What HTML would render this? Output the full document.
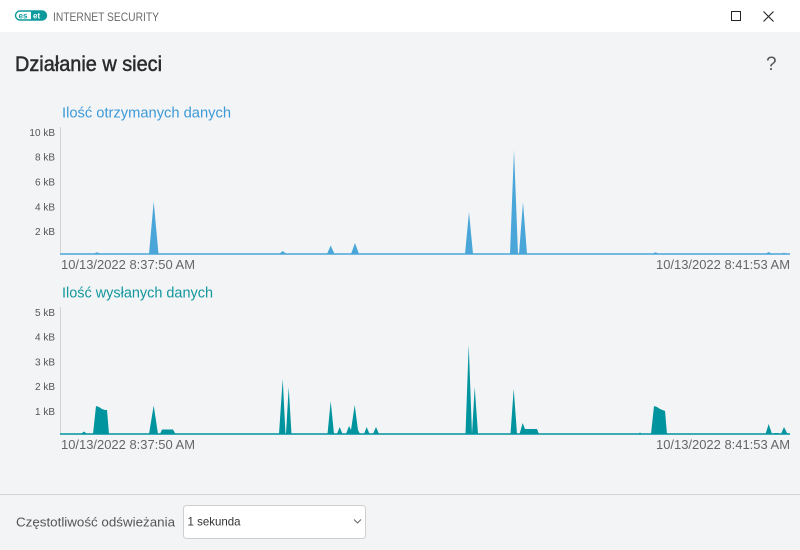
<!DOCTYPE html>
<html><head><meta charset="utf-8"><style>
html,body{margin:0;padding:0;width:800px;height:550px;overflow:hidden;background:#f3f4f6;}
svg{display:block;}
text{font-family:"Liberation Sans",sans-serif;}
</style></head><body>
<svg width="800" height="550" viewBox="0 0 800 550" xmlns="http://www.w3.org/2000/svg">
<rect x="0" y="0" width="800" height="550" fill="#f3f4f6"/>
<!-- title bar -->
<rect x="0" y="0" width="800" height="32" fill="#ffffff"/>
<rect x="15.5" y="11" width="31" height="9" rx="4.5" fill="#ffffff" stroke="#0e9a9c" stroke-width="1.4"/>
<path d="M31 11 H42 A4.5 4.5 0 0 1 42 20 H31 Z" fill="#0e9a9c"/>
<text x="18.5" y="18.5" font-size="8" font-weight="bold" fill="#0e9a9c">es</text>
<text x="33" y="18.5" font-size="8" font-weight="bold" fill="#ffffff">et</text>
<text x="53" y="21" font-size="12" fill="#6a6a6a" textLength="106" lengthAdjust="spacingAndGlyphs">INTERNET SECURITY</text>
<rect x="731.5" y="11.5" width="9" height="9" fill="none" stroke="#222" stroke-width="1"/>
<path d="M763.5 11.5 L773.5 21.5 M773.5 11.5 L763.5 21.5" stroke="#222" stroke-width="1.1"/>
<!-- heading -->
<text x="15" y="71" font-size="21" fill="#2b2b2b" stroke="#2b2b2b" stroke-width="0.5" textLength="147" lengthAdjust="spacingAndGlyphs">Działanie w sieci</text>
<text x="766" y="70" font-size="19" fill="#555">?</text>

<!-- received chart -->
<text x="62" y="117.5" font-size="15" fill="#3d9ad8" textLength="169" lengthAdjust="spacingAndGlyphs">Ilość otrzymanych danych</text>
<g font-size="10" fill="#555" text-anchor="end">
<text x="55" y="136">10 kB</text>
<text x="55" y="160.5">8 kB</text>
<text x="55" y="185.5">6 kB</text>
<text x="55" y="210.5">4 kB</text>
<text x="55" y="235">2 kB</text>
</g>
<line x1="60.5" y1="127" x2="60.5" y2="254" stroke="#d2d2d2" stroke-width="1"/>
<path d="M60 254 L93 254 L97 252.3 L101 254 L149 254 L153.7 201.5 L158.5 254 L279 254 L282.7 251 L286.5 254 L327 254 L330.7 245.5 L334.5 254 L351 254 L355 243 L359 254 L465 254 L469 212 L473 254 L510 254 L514 150 L518 254 L519 254 L523 202 L527 254 L652 254 L655.7 252.3 L659 254 L765 254 L768.7 252 L772 254 L781 254 L784 252.8 L787 254 Z" fill="#4aa6d8"/>
<line x1="60" y1="254" x2="790" y2="254" stroke="#4aa6d8" stroke-width="1.5"/>
<g font-size="13" fill="#666">
<text x="61" y="269" textLength="134" lengthAdjust="spacingAndGlyphs">10/13/2022 8:37:50 AM</text>
<text x="656" y="269" textLength="134" lengthAdjust="spacingAndGlyphs">10/13/2022 8:41:53 AM</text>
</g>

<!-- sent chart -->
<text x="62" y="297.5" font-size="15" fill="#12979d" textLength="151" lengthAdjust="spacingAndGlyphs">Ilość wysłanych danych</text>
<g font-size="10" fill="#555" text-anchor="end">
<text x="55" y="316">5 kB</text>
<text x="55" y="340.5">4 kB</text>
<text x="55" y="365.5">3 kB</text>
<text x="55" y="390">2 kB</text>
<text x="55" y="415">1 kB</text>
</g>
<line x1="60.5" y1="307" x2="60.5" y2="434" stroke="#d2d2d2" stroke-width="1"/>
<path d="M60 434 L81 434 L84 431.5 L87 434 L93 434 L96 406 L99 407 L102 409 L105 410 L107 410 L109 434 L149 434 L153.7 405.5 L158 434 L160 434 L162 429.5 L173 429.5 L175.5 434 L279 434 L282.7 379 L285.5 434 L286 434 L288.7 387 L291.5 434 L327.5 434 L330.7 401 L334 434 L337 434 L339.7 427 L342.5 434 L346 434 L349 426 L351 430 L354.7 405 L358 430 L360 434 L364 434 L366.7 427 L369.5 434 L373 434 L376 427 L379 434 L465.5 434 L468.7 344.7 L472 434 L474.7 387 L478 434 L510.5 434 L513.7 388.7 L517 434 L519.5 434 L522.7 423 L525 429 L537 429 L539 434 L638 434 L640 432.5 L642 434 L651 434 L654 406 L657 407 L660 409 L665 411 L667 434 L765.5 434 L768.7 424 L772 434 L775 433 L778 433 L780 434 L781 434 L784 427 L787 433 L789 434 Z" fill="#00949e"/>
<line x1="60" y1="434" x2="790" y2="434" stroke="#00949e" stroke-width="1.5"/>
<g font-size="13" fill="#666">
<text x="61" y="449" textLength="134" lengthAdjust="spacingAndGlyphs">10/13/2022 8:37:50 AM</text>
<text x="656" y="449" textLength="134" lengthAdjust="spacingAndGlyphs">10/13/2022 8:41:53 AM</text>
</g>

<!-- footer -->
<line x1="0" y1="494.5" x2="800" y2="494.5" stroke="#d4d4d4" stroke-width="1"/>
<text x="16" y="526.5" font-size="13" fill="#555" textLength="159" lengthAdjust="spacingAndGlyphs">Częstotliwość odświeżania</text>
<rect x="183.5" y="505.5" width="182" height="33" rx="3" fill="#ffffff" stroke="#cfcfcf" stroke-width="1"/>
<text x="187.5" y="525.5" font-size="12" fill="#333" textLength="53" lengthAdjust="spacingAndGlyphs">1 sekunda</text>
<path d="M354 519.5 L357.5 523 L361 519.5" fill="none" stroke="#666" stroke-width="1"/>
</svg>
</body></html>
